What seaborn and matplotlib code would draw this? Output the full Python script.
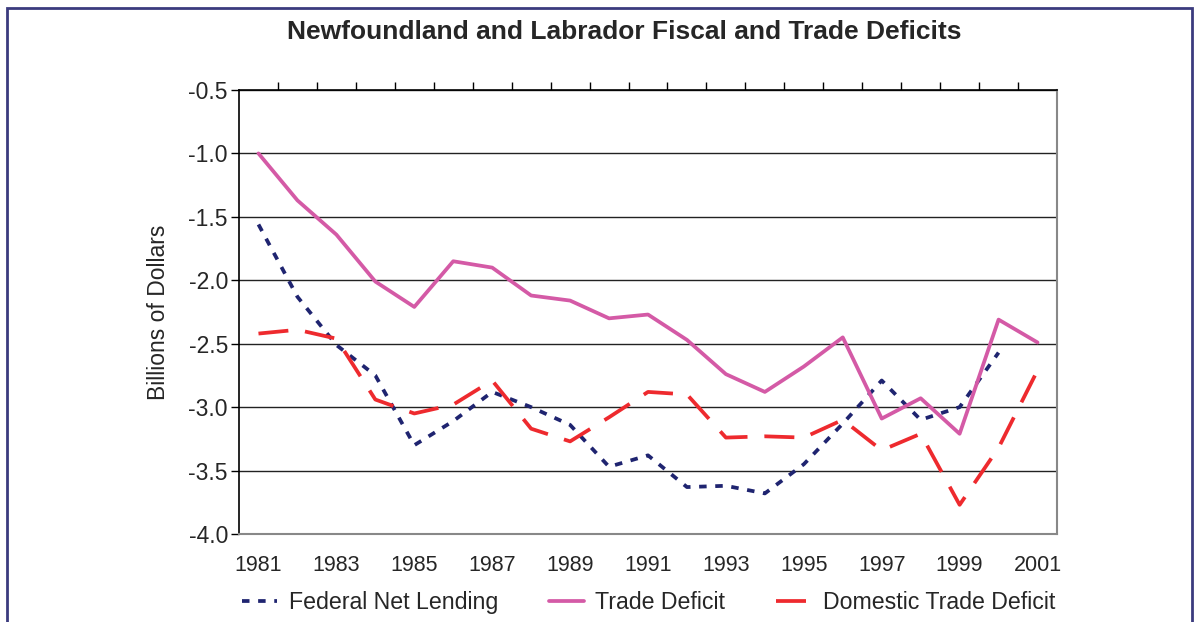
import numpy as np
import pandas as pd
import matplotlib.pyplot as plt
import seaborn as sns
from matplotlib.ticker import FixedLocator
from matplotlib.patches import Rectangle

years = list(range(1981, 2002))

federal_net_lending = [-1.56, -2.13, -2.51, -2.75, -3.30, -3.11, -2.88, -3.00, -3.14, -3.47,
                       -3.38, -3.63, -3.62, -3.68, -3.45, -3.13, -2.79, -3.10, -3.00, -2.57, np.nan]
trade_deficit = [-1.00, -1.37, -1.64, -2.01, -2.21, -1.85, -1.90, -2.12, -2.16, -2.30,
                 -2.27, -2.47, -2.74, -2.88, -2.68, -2.45, -3.09, -2.93, -3.21, -2.31, -2.49]
domestic_trade_deficit = [-2.42, -2.39, -2.46, -2.94, -3.05, -2.98, -2.79, -3.17, -3.27, -3.08,
                          -2.88, -2.90, -3.24, -3.23, -3.24, -3.10, -3.34, -3.21, -3.77, -3.32, -2.71]

names = ['Federal Net Lending', 'Trade Deficit', 'Domestic Trade Deficit']
df = pd.DataFrame({
    'Year': years * 3,
    'Value': federal_net_lending + trade_deficit + domestic_trade_deficit,
    'Series': [names[0]] * 21 + [names[1]] * 21 + [names[2]] * 21,
})
df = df.dropna()

sns.set_style('white')
plt.rcParams['font.family'] = ['Liberation Sans', 'DejaVu Sans']

fig = plt.figure(figsize=(12.01, 6.22), dpi=100)
ax = fig.add_axes([239 / 1201, 1 - 534 / 622, (1057 - 239) / 1201, (534 - 90) / 622])

palette = {names[0]: '#1f2470', names[1]: '#d45aa6', names[2]: '#ee2a2e'}
dashes = {names[0]: (2, 2.3), names[1]: '', names[2]: (8, 4.5)}
sns.lineplot(data=df, x='Year', y='Value', hue='Series', style='Series',
             palette=palette, dashes=dashes, linewidth=2.7, ax=ax, legend=True)

# axes and grid
ax.set_xlim(1980.5, 2001.5)
ax.set_ylim(-4.0, -0.5)
yt = np.arange(-4.0, -0.49, 0.5)
ax.set_yticks(yt)
ax.set_yticklabels([f'{v:.1f}' for v in yt], fontsize=16.5)
ax.yaxis.grid(True, color='#222222', linewidth=1)
ax.set_axisbelow(True)

ax.set_xticks(years[::2])
ax.set_xticklabels([str(y) for y in years[::2]], fontsize=15.5)
ax.xaxis.set_minor_locator(FixedLocator(np.arange(1981.5, 2001, 1.0)))
ax.tick_params(axis='x', which='major', length=0, pad=15)
ax.tick_params(axis='x', which='minor', top=True, bottom=False, direction='out',
               length=6, width=1, color='black')
ax.tick_params(axis='y', which='major', left=True, direction='out', length=6,
               width=1, color='black', pad=2)

for s in ['left', 'top']:
    ax.spines[s].set_color('black')
    ax.spines[s].set_linewidth(1.2)
for s in ['right', 'bottom']:
    ax.spines[s].set_color('#888888')
    ax.spines[s].set_linewidth(1.5)
    ax.spines[s].set_visible(True)

ax.set_xlabel('')
ax.set_ylabel('Billions of Dollars', fontsize=16.5, labelpad=13)

fig.text(0.52, 1 - 32 / 622, 'Newfoundland and Labrador Fiscal and Trade Deficits',
         ha='center', va='center', fontsize=19, fontweight='bold')

handles, labels = ax.get_legend_handles_labels()
ax.legend(handles, labels, loc='center', bbox_to_anchor=(0.501, -0.155), ncol=3,
          frameon=False, fontsize=16.7, handlelength=1.5, columnspacing=2.2,
          handletextpad=0.5, borderpad=0)

# outer border
fig.patches.append(Rectangle((7 / 1201, -0.05), (1192 - 7) / 1201, 1.05 - 8 / 622,
                             transform=fig.transFigure, fill=False,
                             edgecolor='#3b3b7e', linewidth=2))

plt.savefig('out.png', dpi=100)
